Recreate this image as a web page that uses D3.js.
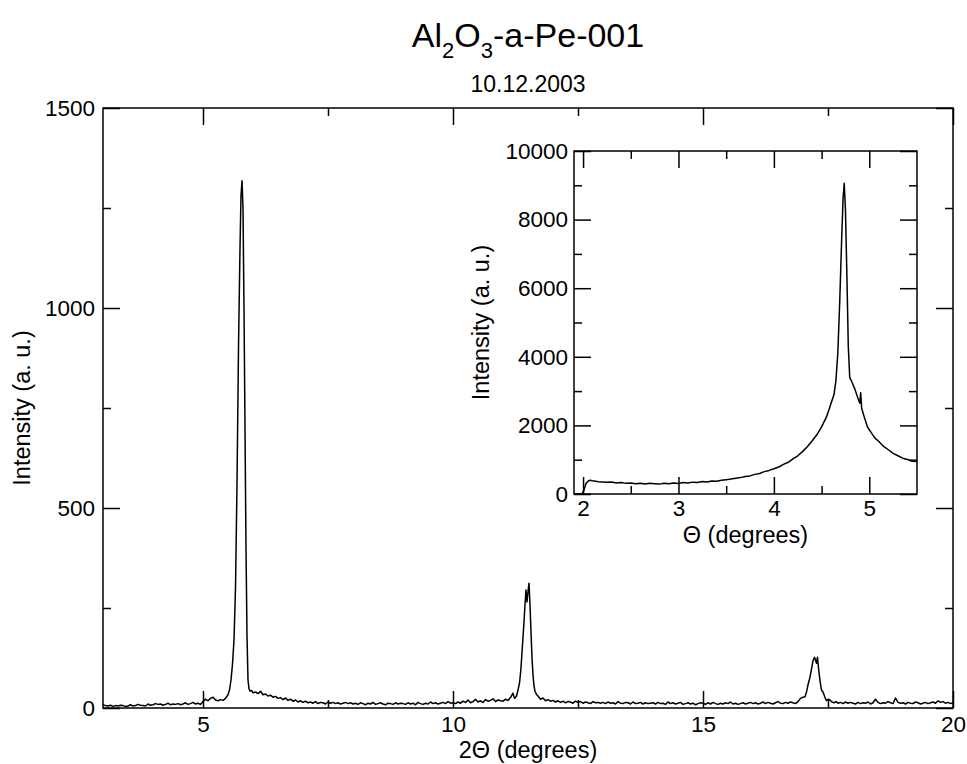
<!DOCTYPE html>
<html>
<head>
<meta charset="utf-8">
<script src="https://cdn.jsdelivr.net/npm/d3@7"></script>
<style>
    body { margin: 0; background: #fff; }
    svg { display: block; }
    text { font-family: "Liberation Sans", Arial, Helvetica, sans-serif; fill: #000; }
</style>
</head>
<body>
<svg id="graph" width="967" height="764"></svg>
<script>
// main scan: [2Theta, counts]
var mainScan = [
    [3.00,8],[3.05,6],[3.10,5],[3.15,7],[3.20,4],[3.25,6],[3.30,5],[3.35,7],[3.40,6],[3.45,4],
    [3.50,5],[3.55,8],[3.60,5],[3.65,6],[3.70,9],[3.75,7],[3.80,6],[3.85,5],[3.90,10],[3.95,7],
    [4.00,8],[4.05,11],[4.10,9],[4.15,10],[4.20,7],[4.25,9],[4.30,12],[4.35,8],[4.40,10],[4.45,9],
    [4.50,11],[4.55,8],[4.60,10],[4.65,13],[4.70,9],[4.75,11],[4.80,14],[4.85,10],[4.90,12],[4.95,9],
    [5.00,16],[5.05,22],[5.10,18],[5.15,24],[5.20,27],[5.25,20],[5.30,18],[5.35,21],[5.40,19],[5.45,24],
    [5.50,33],[5.53,45],[5.56,70],[5.59,110],[5.62,170],[5.65,300],[5.68,560],[5.71,900],[5.74,1150],[5.76,1280],
    [5.78,1318],[5.80,1250],[5.82,1000],[5.84,700],[5.86,400],[5.88,180],[5.90,70],[5.92,48],[5.94,42],[5.97,44],
    [6.00,38],[6.05,40],[6.10,36],[6.15,42],[6.20,33],[6.25,35],[6.30,30],[6.35,32],[6.40,27],[6.45,29],
    [6.50,24],[6.55,26],[6.60,21],[6.65,25],[6.70,19],[6.75,22],[6.80,17],[6.85,20],[6.90,15],[6.95,18],
    [7.00,14],[7.05,17],[7.10,13],[7.15,15],[7.20,12],[7.25,16],[7.30,11],[7.35,14],[7.40,13],[7.45,10],
    [7.50,15],[7.55,12],[7.60,14],[7.65,11],[7.70,13],[7.75,10],[7.80,12],[7.85,14],[7.90,11],[7.95,13],
    [8.00,10],[8.05,12],[8.10,9],[8.15,13],[8.20,11],[8.25,8],[8.30,12],[8.35,10],[8.40,14],[8.45,9],
    [8.50,11],[8.55,13],[8.60,10],[8.65,8],[8.70,12],[8.75,11],[8.80,9],[8.85,13],[8.90,10],[8.95,12],
    [9.00,11],[9.05,9],[9.10,13],[9.15,10],[9.20,12],[9.25,8],[9.30,14],[9.35,11],[9.40,9],[9.45,12],
    [9.50,10],[9.55,15],[9.60,11],[9.65,13],[9.70,10],[9.75,12],[9.80,14],[9.85,11],[9.90,16],[9.95,12],
    [10.00,13],[10.05,11],[10.10,15],[10.15,12],[10.20,17],[10.25,14],[10.30,20],[10.35,13],[10.40,16],[10.45,22],
    [10.50,15],[10.55,18],[10.60,14],[10.65,21],[10.70,17],[10.75,19],[10.80,23],[10.85,16],[10.90,20],[10.95,18],
    [11.00,17],[11.05,22],[11.10,19],[11.15,26],[11.20,37],[11.23,24],[11.27,30],[11.30,45],
    [11.33,62],[11.36,100],[11.39,158],[11.42,215],[11.44,258],[11.46,295],[11.48,265],[11.50,290],[11.52,312],
    [11.54,258],[11.56,190],[11.58,125],[11.60,83],[11.62,55],[11.64,42],[11.67,34],[11.70,30],
    [11.75,22],[11.80,25],[11.85,18],[11.90,21],[11.95,17],
    [12.00,19],[12.05,15],[12.10,18],[12.15,14],[12.20,17],[12.25,13],[12.30,16],[12.35,15],[12.40,12],[12.45,17],
    [12.50,14],[12.55,16],[12.60,12],[12.65,15],[12.70,13],[12.75,11],[12.80,16],[12.85,13],[12.90,14],[12.95,12],
    [13.00,14],[13.05,11],[13.10,15],[13.15,12],[13.20,13],[13.25,10],[13.30,16],[13.35,12],[13.40,11],[13.45,14],
    [13.50,13],[13.55,10],[13.60,15],[13.65,11],[13.70,12],[13.75,14],[13.80,10],[13.85,13],[13.90,11],[13.95,12],
    [14.00,13],[14.05,10],[14.10,14],[14.15,11],[14.20,12],[14.25,9],[14.30,15],[14.35,11],[14.40,13],[14.45,10],
    [14.50,12],[14.55,14],[14.60,9],[14.65,11],[14.70,13],[14.75,10],[14.80,12],[14.85,8],[14.90,11],[14.95,13],
    [15.00,12],[15.05,9],[15.10,13],[15.15,10],[15.20,14],[15.25,11],[15.30,9],[15.35,12],[15.40,10],[15.45,13],
    [15.50,11],[15.55,15],[15.60,10],[15.65,12],[15.70,9],[15.75,11],[15.80,13],[15.85,10],[15.90,12],[15.95,14],
    [16.00,11],[16.05,13],[16.10,10],[16.15,12],[16.20,15],[16.25,11],[16.30,14],[16.35,12],[16.40,10],[16.45,13],
    [16.50,16],[16.55,12],[16.60,11],[16.65,14],[16.70,12],[16.75,15],[16.80,13],[16.85,11],[16.90,16],[16.95,24],
    [17.00,27],[17.04,28],[17.07,40],[17.10,58],[17.14,77],[17.17,98],[17.20,118],[17.23,127],[17.25,120],[17.27,112],
    [17.29,127],[17.31,100],[17.34,68],[17.37,45],[17.40,40],[17.44,26],[17.47,18],[17.50,22],[17.54,20],[17.58,15],
    [17.62,13],[17.66,16],[17.70,12],[17.75,14],[17.80,11],[17.85,15],[17.90,12],[17.95,14],
    [18.00,12],[18.05,10],[18.10,14],[18.15,11],[18.20,13],[18.25,12],[18.30,15],[18.35,10],[18.40,13],[18.45,22],
    [18.50,14],[18.55,11],[18.60,13],[18.65,12],[18.70,16],[18.75,13],[18.80,11],[18.85,25],[18.90,14],[18.95,12],
    [19.00,13],[19.05,10],[19.10,14],[19.15,12],[19.20,11],[19.25,15],[19.30,13],[19.35,10],[19.40,12],[19.45,14],
    [19.50,11],[19.55,13],[19.60,15],[19.65,12],[19.70,18],[19.75,14],[19.80,16],[19.85,12],[19.90,14],[19.95,11],
    [20.00,13]
];

// inset scan: [Theta, counts]
var insetScan = [
    [1.90,0],[1.95,0],[1.99,0],[2.01,120],[2.03,300],[2.05,370],[2.07,400],[2.10,385],[2.13,372],[2.16,360],
    [2.20,352],[2.25,340],[2.30,347],[2.35,322],[2.40,333],[2.45,310],[2.50,322],[2.55,300],[2.60,316],[2.65,293],
    [2.70,310],[2.75,298],[2.80,288],[2.85,312],[2.90,300],[2.95,322],[3.00,308],[3.05,332],[3.10,318],[3.15,346],
    [3.20,338],[3.25,362],[3.30,352],[3.35,382],[3.40,372],[3.45,402],[3.50,418],[3.55,436],[3.60,462],[3.65,478],
    [3.70,512],[3.75,528],[3.80,572],[3.85,598],[3.90,652],[3.95,688],[4.00,735],[4.05,788],[4.10,862],[4.15,925],
    [4.20,1025],[4.25,1115],[4.30,1235],[4.35,1375],[4.40,1545],[4.45,1725],[4.50,1955],[4.55,2240],[4.58,2480],
    [4.60,2650],[4.63,2900],[4.65,3300],[4.67,4100],[4.69,5600],[4.71,7400],[4.725,8600],[4.737,9060],[4.75,8300],
    [4.765,6400],[4.78,4300],[4.795,3400],[4.82,3250],[4.85,3050],[4.88,2800],[4.90,2650],[4.91,2950],[4.92,2500],
    [4.95,2220],[4.98,1960],[5.02,1790],[5.06,1630],[5.10,1530],[5.15,1385],[5.20,1290],[5.25,1185],[5.30,1115],
    [5.35,1045],[5.40,1005],[5.45,955],[5.50,945]
];

var mainXMajor = [5, 10, 15, 20],
    mainXMinor = [7.5, 12.5, 17.5],
    mainYMajor = [0, 500, 1000, 1500],
    mainYMinor = [250, 750, 1250];

var insetXMajor = [2, 3, 4, 5],
    insetXMinor = [2.5, 3.5, 4.5],
    insetYMajor = [0, 2000, 4000, 6000, 8000, 10000],
    insetYMinor = [1000, 3000, 5000, 7000, 9000];

var titleParts = [["Al", false], ["2", true], ["O", false], ["3", true], ["-a-Pe-001", false]],
    subtitle = "10.12.2003",
    mainXLabel = "2\u0398 (degrees)",
    insetXLabel = "\u0398 (degrees)",
    yLabel = "Intensity (a. u.)";

var svg = d3.select("#graph");

// titles
var title = svg.append("text")
    .attr("x", 528)
    .attr("y", 47)
    .attr("text-anchor", "middle")
    .style("font-size", "34px");

var shift = 0;
titleParts.forEach(function (p) {
    var dy = p[1] ? 11 - shift : -shift;
    shift += dy;
    title.append("tspan")
        .attr("dy", dy)
        .style("font-size", p[1] ? "22px" : "34px")
        .text(p[0]);
});

svg.append("text")
    .attr("x", 528)
    .attr("y", 92)
    .attr("text-anchor", "middle")
    .style("font-size", "23px")
    .text(subtitle);

function panel(opts) {
    var width = opts.right - opts.left,
        height = opts.bottom - opts.top;

    var g = svg.append("g")
        .attr("transform", "translate(" + opts.left + "," + opts.top + ")");

    g.append("rect")
        .attr("width", width)
        .attr("height", height)
        .attr("fill", "#fff");

    // set the ranges
    var x = d3.scaleLinear().domain(opts.xDomain).range([0, width]),
        y = d3.scaleLinear().domain(opts.yDomain).range([height, 0]);

    var clipId = "clip-" + opts.name;
    g.append("clipPath").attr("id", clipId)
        .append("rect").attr("width", width).attr("height", height);

    // define the line
    var line = d3.line()
        .x(function (d) { return x(d[0]); })
        .y(function (d) { return y(d[1]); });

    g.append("path")
        .datum(opts.data)
        .attr("clip-path", "url(#" + clipId + ")")
        .attr("fill", "none")
        .attr("stroke", "#000")
        .attr("stroke-width", 1.5)
        .attr("stroke-linejoin", "round")
        .attr("d", line);

    function ticks(axis, vals, size, labelled) {
        return axis.tickValues(vals).tickSize(-size).tickPadding(opts.pad)
            .tickFormat(labelled ? d3.format("d") : "");
    }

    var axes = [
        [d3.axisBottom, x, "translate(0," + height + ")", opts.xMajor, opts.xMinor, true],
        [d3.axisTop, x, null, opts.xMajor, opts.xMinor, false],
        [d3.axisLeft, y, null, opts.yMajor, opts.yMinor, true],
        [d3.axisRight, y, "translate(" + width + ",0)", opts.yMajor, opts.yMinor, false]
    ];

    axes.forEach(function (a) {
        [[a[3], 17, a[5]], [a[4], 8, false]].forEach(function (t) {
            var ax = g.append("g")
                .attr("transform", a[2])
                .call(ticks(a[0](a[1]), t[0], t[1], t[2]));
            ax.select(".domain").remove();
            ax.selectAll("line").attr("stroke", "#000").attr("stroke-width", 1.5);
            ax.selectAll("text")
                .attr("font-family", null)
                .style("font-size", "22.5px");
        });
    });

    // frame
    g.append("rect")
        .attr("width", width)
        .attr("height", height)
        .attr("fill", "none")
        .attr("stroke", "#000")
        .attr("stroke-width", 1.5);

    // Label X Axis
    g.append("text")
        .attr("text-anchor", "middle")
        .attr("x", width / 2)
        .attr("y", height + opts.xLabelGap)
        .style("font-size", "23.5px")
        .text(opts.xLabel);

    // text label for the y axis
    g.append("text")
        .attr("transform", "rotate(-90)")
        .attr("x", -height / 2)
        .attr("y", -opts.yLabelGap)
        .attr("text-anchor", "middle")
        .style("font-size", "23.5px")
        .text(yLabel);
}

panel({
    name: "main", left: 103, right: 953, top: 108, bottom: 708,
    xDomain: [3, 20], yDomain: [0, 1500], data: mainScan,
    xMajor: mainXMajor, xMinor: mainXMinor, yMajor: mainYMajor, yMinor: mainYMinor,
    pad: 8, xLabel: mainXLabel, xLabelGap: 50, yLabelGap: 73
});

panel({
    name: "inset", left: 574, right: 917, top: 151, bottom: 494,
    xDomain: [1.905, 5.5], yDomain: [0, 10000], data: insetScan,
    xMajor: insetXMajor, xMinor: insetXMinor, yMajor: insetYMajor, yMinor: insetYMinor,
    pad: 6, xLabel: insetXLabel, xLabelGap: 49, yLabelGap: 85
});
</script>
</body>
</html>
